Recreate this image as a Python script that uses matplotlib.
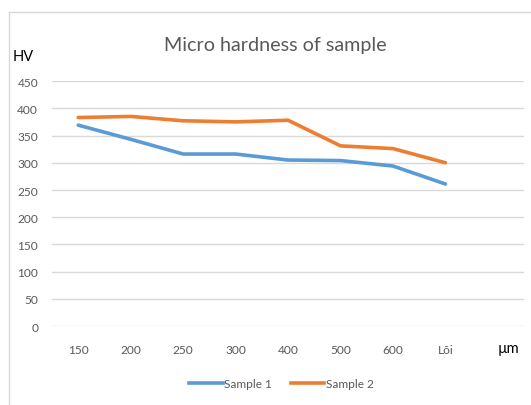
import matplotlib.pyplot as plt
from matplotlib.lines import Line2D
import numpy as np

plt.rcParams['font.family'] = ['Lato', 'DejaVu Sans']

depths = ['150', '200', '250', '300', '400', '500', '600', 'Lõi']
sample1 = [369, 343, 316, 316, 305, 304, 294, 261]
sample2 = [383, 385, 377, 375, 378, 331, 326, 300]
yticks = [0, 50, 100, 150, 200, 250, 300, 350, 400, 450]

blue = '#5B9BD5'
orange = '#ED7D31'
grid_c = '#D9D9D9'
label_c = '#595959'

fig = plt.figure(figsize=(5.31, 4.06), dpi=100)
ax = fig.add_axes([0.098, 0.194, 0.889, 0.604])

x = np.arange(len(depths))
ax.plot(x, sample1, color=blue, lw=2.6, solid_capstyle='round', solid_joinstyle='round')
ax.plot(x, sample2, color=orange, lw=2.6, solid_capstyle='round', solid_joinstyle='round')

ax.set_xlim(-0.5, len(depths) + 0.5)
ax.set_ylim(0, 450)
ax.set_yticks(yticks)
ax.set_xticks(list(x) + [len(depths)])
ax.set_xticklabels(depths + [''])
ax.tick_params(axis='both', length=0, labelsize=8.6, labelcolor=label_c)
ax.tick_params(axis='x', pad=13)
ax.tick_params(axis='y', pad=10)
ax.grid(axis='y', color=grid_c, lw=1)
ax.set_axisbelow(True)
for s in ax.spines.values():
    s.set_visible(False)

# unit label sits in the empty last slot of the category axis
ax.text(len(depths) + 0.2, -0.09, 'µm', transform=ax.get_xaxis_transform(),
        ha='center', va='center', fontsize=10.5, color='black')

fig.text(0.518, 0.887, 'Micro hardness of sample', ha='center', va='center',
         fontsize=14.2, color=label_c)
fig.text(0.044, 0.86, 'HV', ha='center', va='center', fontsize=10.5, color='black')

# chart frame
fig.add_artist(Line2D([0.017, 0.017], [0.0, 0.968], color=grid_c, lw=1))
fig.add_artist(Line2D([0.017, 1.0], [0.968, 0.968], color=grid_c, lw=1))

handles = [Line2D([], [], color=blue, lw=2.6), Line2D([], [], color=orange, lw=2.6)]
fig.legend(handles, ['Sample 1', 'Sample 2'], loc='center', bbox_to_anchor=(0.53, 0.052),
           ncol=2, frameon=False, fontsize=8.6, labelcolor=label_c, handlelength=2.8,
           handletextpad=0.1, columnspacing=1.6)

fig.savefig('out.png', dpi=100)
